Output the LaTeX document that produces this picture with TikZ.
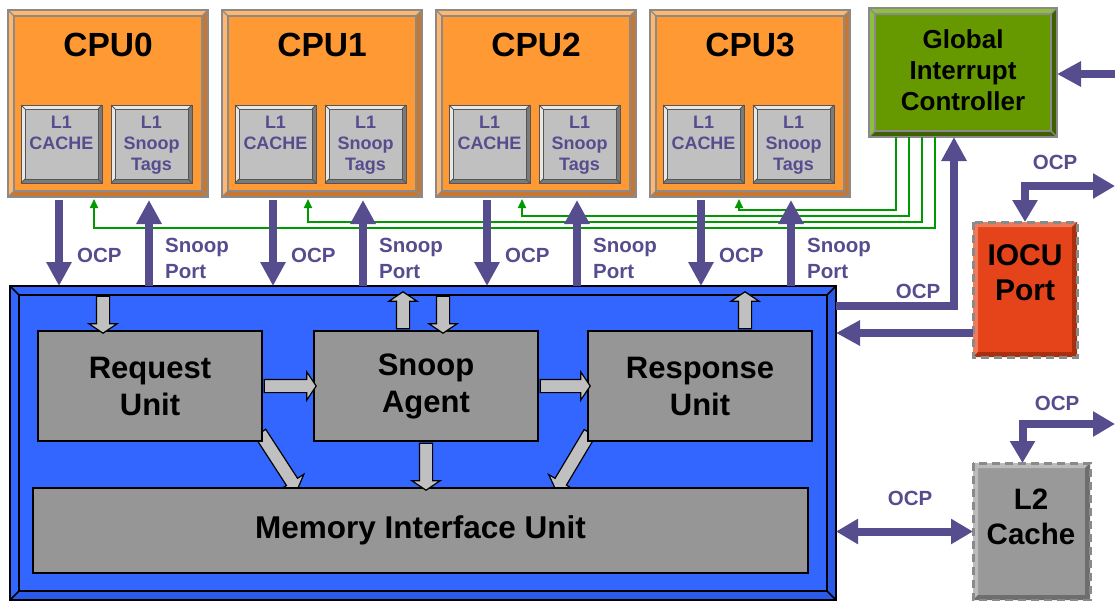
\documentclass[tikz,border=0pt]{standalone}
\usepackage{fontspec}
\setmainfont{Liberation Sans}
\usetikzlibrary{arrows.meta,calc,shapes.arrows}
\definecolor{purp}{HTML}{554D8E}
\definecolor{cpuface}{HTML}{FF9933}
\definecolor{cpulight}{HTML}{FFB66E}
\definecolor{cpudark}{HTML}{C9772E}
\definecolor{edgegray}{HTML}{8A8A8A}
\definecolor{l1face}{HTML}{C0C0C0}
\definecolor{l1light}{HTML}{E8E8E8}
\definecolor{l1dark}{HTML}{7A7A7A}
\definecolor{l1edge}{HTML}{555555}
\definecolor{gicface}{HTML}{669900}
\definecolor{giclight}{HTML}{8FBF40}
\definecolor{gicdark}{HTML}{3F6000}
\definecolor{blueA}{HTML}{3366FF}
\definecolor{blueB}{HTML}{2C5AE8}
\definecolor{unitgray}{HTML}{969696}
\definecolor{hgray}{HTML}{C0C0C0}
\definecolor{iocuface}{HTML}{E5431A}
\definecolor{iocul}{HTML}{EE7A58}
\definecolor{iocud}{HTML}{A8300E}
\definecolor{l2face}{HTML}{999999}
\definecolor{l2l}{HTML}{BBBBBB}
\definecolor{l2d}{HTML}{6E6E6E}
\definecolor{grncol}{HTML}{009900}
\newcommand\FS[2]{\fontsize{#1}{#2}\selectfont\bfseries}
% bevel: name, width, light, dark, edge options
\newcommand\Bev[5]{%
 \fill[#3] (#1.north west) -- (#1.north east) -- ([shift={(-#2,#2)}]#1.north east) -- ([shift={(#2,#2)}]#1.north west) -- ([shift={(#2,-#2)}]#1.south west) -- (#1.south west) -- cycle;
 \fill[#4] (#1.south east) -- (#1.north east) -- ([shift={(-#2,#2)}]#1.north east) -- ([shift={(-#2,-#2)}]#1.south east) -- ([shift={(#2,-#2)}]#1.south west) -- (#1.south west) -- cycle;
 \draw[#5] ([shift={(#2,#2)}]#1.north west) rectangle ([shift={(-#2,-#2)}]#1.south east);
 \draw[#5] (#1.north west) -- ([shift={(#2,#2)}]#1.north west) (#1.north east) -- ([shift={(-#2,#2)}]#1.north east) (#1.south east) -- ([shift={(-#2,-#2)}]#1.south east) (#1.south west) -- ([shift={(#2,-#2)}]#1.south west);
 \draw[#5] (#1.north west) rectangle (#1.south east);
}
\newcommand\HArrow[3]{\path let \p1=($(#2)-(#1)$), \n1={veclen(\x1,\y1)}, \n2={atan2(\y1,\x1)} in node[harrow, minimum height=\n1, rotate=\n2] (#3) at ($(#1)!0.5!(#2)$) {};}
\tikzset{
 bx/.style={rectangle, inner sep=0pt, outer sep=0pt},
 unit/.style={bx, draw=black, line width=1.5pt, fill=unitgray, align=center, font=\FS{31}{37}},
 parr/.style={draw=purp, line width=8pt, -{Triangle[length=24pt,width=24pt]}},
 pdbl/.style={draw=purp, line width=8pt, {Triangle[length=22pt,width=24pt]}-{Triangle[length=22pt,width=24pt]}},
 plbl/.style={text=purp, font=\FS{20.5}{26}, align=left, inner sep=0pt},
 grn/.style={draw=grncol, line width=1.8pt, -{Triangle[length=9pt,width=8pt]}},
 harrow/.style={single arrow, draw=black, fill=hgray, line width=1.2pt, inner sep=6pt, outer sep=0pt, minimum width=0pt, single arrow head extend=7.5pt, single arrow tip angle=112},
 l1/.style={bx, fill=l1face, minimum width=81pt, minimum height=78pt},
 l1txt/.style={text=purp, font=\FS{18}{21}, align=center, anchor=north, inner sep=0pt},
 dashedge/.style={draw=edgegray, line width=3pt, dash pattern=on 8pt off 5pt},
 ttl/.style={align=center, inner sep=0pt},
}
\begin{document}
\begin{tikzpicture}[x=1pt,y=-1pt]
\useasboundingbox (0,0) rectangle (1115,600);
% CPUs
\foreach \i in {0,...,3}{
  \pgfmathsetmacro\cx{108+214*\i}
  \node[bx, fill=cpuface, minimum width=200pt, minimum height=187pt] (cpu\i) at (\cx,103.5) {};
  \Bev{cpu\i}{6}{cpulight}{cpudark}{edgegray, line width=1.2pt}
  \node[ttl, font=\FS{33.5}{38}] (cput\i) at (\cx,45) {CPU\i};
  \node[l1] (l1c\i) at (\cx-46.5,144) {};
  \Bev{l1c\i}{4}{l1light}{l1dark}{l1edge, line width=1pt}
  \node[l1txt] (l1ct\i) at (\cx-46.5,116) {L1\\CACHE};
  \node[l1] (l1s\i) at (\cx+43.5,144) {};
  \Bev{l1s\i}{4}{l1light}{l1dark}{l1edge, line width=1pt}
  \node[l1txt] (l1st\i) at (\cx+43.5,116) {L1\\Snoop\\Tags};
}
% GIC
\node[bx, fill=gicface, minimum width=188pt, minimum height=129pt] (gic) at (963,72.5) {};
\Bev{gic}{6}{giclight}{gicdark}{edgegray, line width=1.2pt}
\node[ttl, font=\FS{26}{31}] (gict) at (963,70) {Global\\Interrupt\\Controller};
% green interrupt lines
\draw[grn] ($(gic.south west)+(66,0)$) |- ($(cpu0.south west)+(86,31)$) -- ($(cpu0.south west)+(86,2)$);
\draw[grn] ($(gic.south west)+(53,0)$) |- ($(cpu1.south west)+(86,25)$) -- ($(cpu1.south west)+(86,2)$);
\draw[grn] ($(gic.south west)+(40,0)$) |- ($(cpu2.south west)+(86,19)$) -- ($(cpu2.south west)+(86,2)$);
\draw[grn] ($(gic.south west)+(27,0)$) |- ($(cpu3.south west)+(89,13)$) -- ($(cpu3.south west)+(89,2)$);
% blue box
\node[bx, fill=blueA, minimum width=826pt, minimum height=314pt] (blue) at (423,443) {};
\Bev{blue}{9}{blueA}{blueB}{black, line width=1.5pt}
% CPU <-> blue purple arrows
\foreach \i in {0,...,3}{
  \draw[parr] ($(cpu\i.south west)+(51,3)$) -- ($(cpu\i.south west)+(51,89)$);
  \draw[parr] ($(cpu\i.south west)+(141,89)$) -- ($(cpu\i.south west)+(141,3)$);
  \node[plbl, anchor=west] (ocpl\i) at ($(cpu\i.south west)+(69,58)$) {OCP};
  \node[plbl, anchor=west] (spl\i) at ($(cpu\i.south west)+(157,61)$) {Snoop\\Port};
}
% diagonal hollow arrows (under units)
\coordinate (d1a) at (259,431);
\coordinate (d1b) at (296,488);
\coordinate (d2a) at (591,431);
\coordinate (d2b) at (557,488);
\HArrow{d1a}{d1b}{hd1}
\HArrow{d2a}{d2b}{hd2}
% units
\node[unit, minimum width=224pt, minimum height=110pt] (req) at (150,386) {Request\\Unit};
\node[unit, minimum width=224pt, minimum height=110pt] (snp) at (426,386) {Snoop\\Agent};
\node[unit, minimum width=224pt, minimum height=110pt] (rsp) at (700,386) {Response\\Unit};
\node[unit, minimum width=775pt, minimum height=85pt, font=\FS{31.5}{36}] (miu) at (420.5,530.5) {Memory Interface Unit};
% hollow arrows
\coordinate (ra1) at (103,294);
\coordinate (ra2) at (ra1 |- req.north);
\HArrow{ra1}{ra2}{hr1}
\coordinate (su1) at (403,294);
\coordinate (su2) at (su1 |- snp.north);
\HArrow{su2}{su1}{hs1}
\coordinate (sd1) at (443,294);
\coordinate (sd2) at (sd1 |- snp.north);
\HArrow{sd1}{sd2}{hs2}
\coordinate (pu1) at (745,294);
\coordinate (pu2) at (pu1 |- rsp.north);
\HArrow{pu2}{pu1}{hp1}
\HArrow{req.east}{snp.west}{hrs}
\HArrow{snp.east}{rsp.west}{hsr}
\coordinate (sm1) at (snp.south |- miu.north);
\HArrow{snp.south}{sm1}{hsm}
% right side: GIC links
\coordinate (gin) at (1115,74);
\draw[parr] (gin) -- (gin -| gic.east);
\coordinate (bo1) at ($(blue.north east)+(0,20)$);
\coordinate (gup) at ($(gic.south)+(-9,0)$);
\draw[parr] (bo1) -| (gup);
\node[plbl] (ocpg) at (918,291) {OCP};
% IOCU
\node[bx, fill=iocuface, minimum width=104pt, minimum height=135pt] (iocu) at (1025,289.5) {};
\Bev{iocu}{5}{iocul}{iocud}{draw=none}
\draw[dashedge] (iocu.north west) rectangle (iocu.south east);
\node[ttl, font=\FS{30}{35}] (iocut) at (1025,273) {IOCU\\Port};
\coordinate (io1) at ($(iocu.south west)+(0,-24)$);
\draw[parr] (io1) -- (io1 -| blue.east);
\coordinate (ioo) at (1115,186);
\draw[pdbl] (iocu.north) |- (ioo);
\node[plbl] (ocpio) at (1055,162) {OCP};
% L2
\node[bx, fill=l2face, minimum width=117pt, minimum height=137pt] (l2) at (1031.5,531.5) {};
\Bev{l2}{5}{l2l}{l2d}{draw=none}
\draw[dashedge] (l2.north west) rectangle (l2.south east);
\node[ttl, font=\FS{29.5}{35}] (l2t) at (1031,517) {L2\\Cache};
\draw[pdbl] (l2.west -| blue.east) -- (l2.west);
\node[plbl] (ocpl2) at (910,498) {OCP};
\coordinate (l2o) at (1115,424);
\draw[pdbl] ($(l2.north)+(-9,0)$) |- (l2o);
\node[plbl] (ocpl2o) at (1057,403) {OCP};
\end{tikzpicture}
\end{document}
